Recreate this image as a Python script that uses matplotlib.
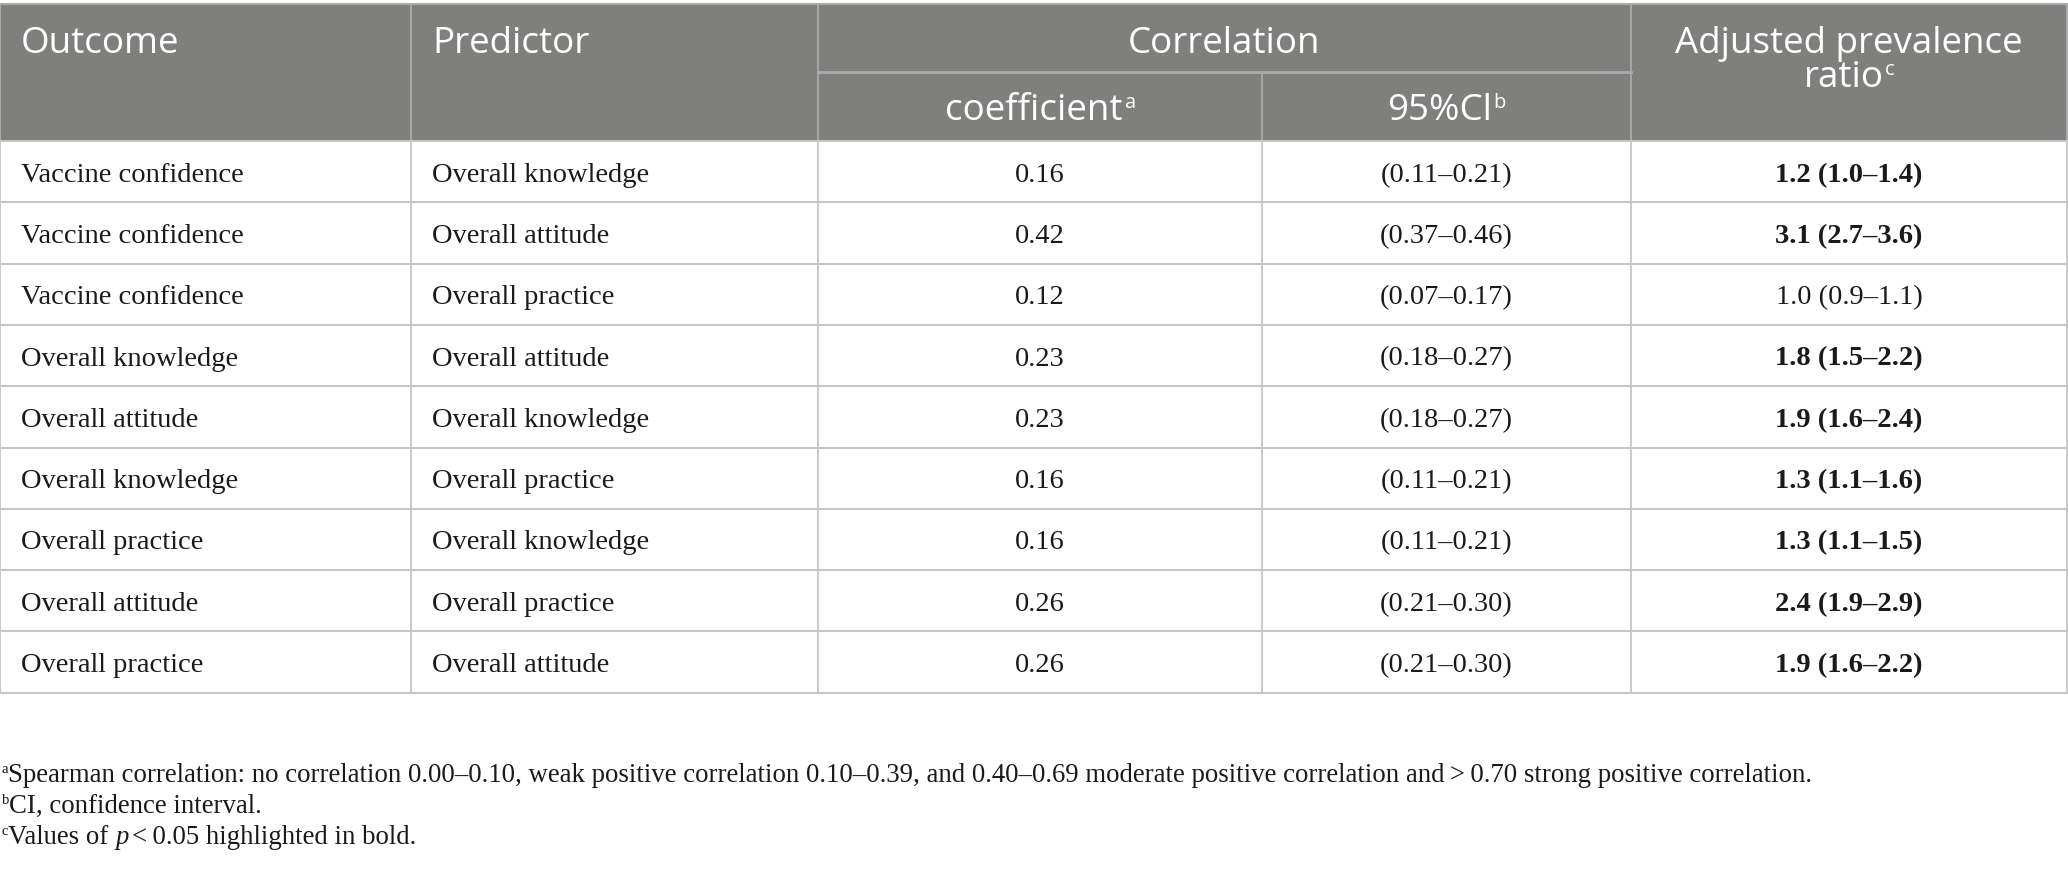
import matplotlib
matplotlib.use("Agg")
import matplotlib.pyplot as plt
from matplotlib.patches import Rectangle

# ---------------- data ----------------
outcomes = ["Vaccine confidence", "Vaccine confidence", "Vaccine confidence",
            "Overall knowledge", "Overall attitude", "Overall knowledge",
            "Overall practice", "Overall attitude", "Overall practice"]
predictors = ["Overall knowledge", "Overall attitude", "Overall practice",
              "Overall attitude", "Overall knowledge", "Overall practice",
              "Overall knowledge", "Overall practice", "Overall attitude"]
coefficients = ["0.16", "0.42", "0.12", "0.23", "0.23", "0.16", "0.16", "0.26", "0.26"]
ci_low = ["0.11", "0.37", "0.07", "0.18", "0.18", "0.11", "0.11", "0.21", "0.21"]
ci_high = ["0.21", "0.46", "0.17", "0.27", "0.27", "0.21", "0.21", "0.30", "0.30"]
apr = ["1.2", "3.1", "1.0", "1.8", "1.9", "1.3", "1.3", "2.4", "1.9"]
apr_low = ["1.0", "2.7", "0.9", "1.5", "1.6", "1.1", "1.1", "1.9", "1.6"]
apr_high = ["1.4", "3.6", "1.1", "2.2", "2.4", "1.6", "1.5", "2.9", "2.2"]
significant = [True, True, False, True, True, True, True, True, True]

footnotes = [
    ("a", "Spearman correlation: no correlation 0.00\u20130.10, weak positive correlation 0.10\u20130.39, "
          "and 0.40\u20130.69 moderate positive correlation and\u2009>\u20090.70 strong positive correlation."),
    ("b", "CI, confidence interval."),
]

# ---------------- layout ----------------
W, H = 2068, 871
DPI = 100
col_edges = [0, 411, 818, 1262, 1631, 2067]
header_top, header_mid, header_bottom = 4, 72, 141
row_h = 61.3
n = len(outcomes)
table_bottom = header_bottom + n * row_h

HEAD_BG = "#7f807e"
HEAD_LINE = "#ababab"
GRID = "#c6c6c6"
SANS = ["Open Sans", "DejaVu Sans"]
SERIF = ["Liberation Serif", "DejaVu Serif"]

fig = plt.figure(figsize=(W / DPI, H / DPI), dpi=DPI)
ax = fig.add_axes([0, 0, 1, 1])
ax.set_xlim(0, W)
ax.set_ylim(H, 0)
ax.axis("off")
renderer = fig.canvas.get_renderer()


def pt2px(pt):
    return pt * DPI / 72.0


def draw_runs(x, y, parts, ha="left"):
    """parts: list of (text, props, dy, gap_before_px)"""
    objs = []
    widths = []
    for txt, props, dy, gap in parts:
        t = ax.text(0, y + dy, txt, va="baseline", ha="left", **props)
        w = t.get_window_extent(renderer).width
        objs.append((t, gap))
        widths.append(w)
    total = sum(widths) + sum(g for _, g in objs)
    if ha == "center":
        cx = x - total / 2
    elif ha == "right":
        cx = x - total
    else:
        cx = x
    for (t, gap), w in zip(objs, widths):
        cx += gap
        t.set_x(cx)
        cx += w
    return objs


# header background
ax.add_patch(Rectangle((col_edges[0], header_top), col_edges[-1] - col_edges[0],
                       header_bottom - header_top, facecolor=HEAD_BG, edgecolor="none", zorder=0))

# header lines
ax.plot([0, col_edges[-1]], [header_top, header_top], color=HEAD_LINE, lw=1.5, zorder=2)
for xe in [col_edges[1], col_edges[2], col_edges[4]]:
    ax.plot([xe, xe], [header_top, header_bottom], color=HEAD_LINE, lw=1.3, zorder=2)
ax.plot([col_edges[3], col_edges[3]], [header_mid, header_bottom], color=HEAD_LINE, lw=1.3, zorder=2)
ax.plot([col_edges[2], col_edges[4]], [header_mid, header_mid], color=HEAD_LINE, lw=2.0, zorder=2)
ax.plot([0, 0], [header_top, header_bottom], color=HEAD_LINE, lw=1.5, zorder=2)
ax.plot([col_edges[-1], col_edges[-1]], [header_top, header_bottom], color=HEAD_LINE, lw=1.5, zorder=2)

# body grid
for i in range(n + 1):
    yy = header_bottom + i * row_h
    ax.plot([0, col_edges[-1]], [yy, yy], color=GRID, lw=1.5, zorder=2)
for xe in col_edges:
    ax.plot([xe, xe], [header_top if False else header_bottom, table_bottom], color=GRID, lw=1.3, zorder=2)

# header text
HFS = 26.5
hp = dict(family=SANS, fontsize=HFS, color="white")
hs = dict(family=SANS, fontsize=HFS * 0.55, color="white")
ax.text(21, 53, "Outcome", va="baseline", ha="left", **hp)
ax.text(col_edges[1] + 21, 53, "Predictor", va="baseline", ha="left", **hp)
ax.text((col_edges[2] + col_edges[4]) / 2, 53, "Correlation", va="baseline", ha="center", **hp)
ax.text((col_edges[4] + col_edges[5]) / 2, 53, "Adjusted prevalence", va="baseline", ha="center", **hp)
sup_dy = -pt2px(HFS) * 0.32
draw_runs((col_edges[4] + col_edges[5]) / 2, 87, [("ratio", hp, 0, 0), ("c", hs, sup_dy, 1)], ha="center")
draw_runs((col_edges[2] + col_edges[3]) / 2, 120, [("coefficient", hp, 0, 0), ("a", hs, sup_dy, 1)], ha="center")
draw_runs((col_edges[3] + col_edges[4]) / 2, 120, [("95%Cl", hp, 0, 0), ("b", hs, sup_dy, 1)], ha="center")

# body text
BFS = 20.5
bp = dict(family=SERIF, fontsize=BFS, color="#1a1a1a")
bb = dict(family=SERIF, fontsize=BFS, color="#1a1a1a", weight="bold")
for i in range(n):
    yb = header_bottom + (i + 0.5) * row_h + 10
    ax.text(21, yb, outcomes[i], va="baseline", ha="left", **bp)
    ax.text(col_edges[1] + 21, yb, predictors[i], va="baseline", ha="left", **bp)
    ax.text((col_edges[2] + col_edges[3]) / 2, yb, coefficients[i], va="baseline", ha="center", **bp)
    ax.text((col_edges[3] + col_edges[4]) / 2, yb, f"({ci_low[i]}\u2013{ci_high[i]})",
            va="baseline", ha="center", **bp)
    ax.text((col_edges[4] + col_edges[5]) / 2, yb, f"{apr[i]} ({apr_low[i]}\u2013{apr_high[i]})",
            va="baseline", ha="center", **(bb if significant[i] else bp))

# footnotes
FFS = 19.3
fp = dict(family=SERIF, fontsize=FFS, color="#1a1a1a")
fi = dict(family=SERIF, fontsize=FFS, color="#1a1a1a", style="italic")
fs = dict(family=SERIF, fontsize=FFS * 0.55, color="#1a1a1a")
fsup = -pt2px(FFS) * 0.35
foot_y = [782, 813, 844]
for (letter, txt), yb in zip(footnotes, foot_y):
    draw_runs(2, yb, [(letter, fs, fsup, 0), (txt, fp, 0, 0)])
draw_runs(2, foot_y[2], [("c", fs, fsup, 0), ("Values of", fp, 0, 0), ("p", fi, 0, pt2px(FFS) * 0.25),
                         ("<\u20090.05 highlighted in bold.", fp, 0, pt2px(FFS) * 0.12)])

fig.savefig("out.png", dpi=DPI)
